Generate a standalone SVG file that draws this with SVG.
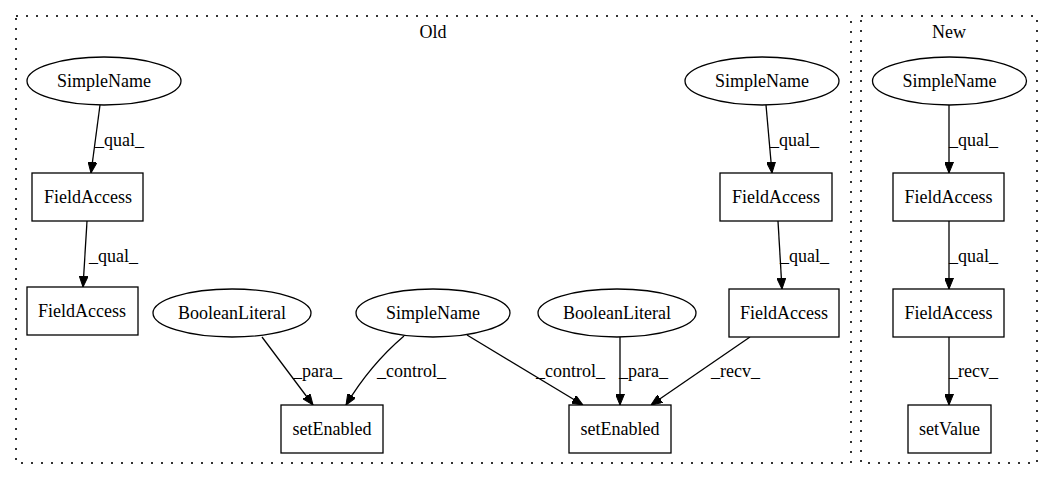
<svg xmlns="http://www.w3.org/2000/svg" width="1053" height="480" viewBox="0 0 1053 480">
<defs>
<marker id="ah" markerWidth="11" markerHeight="9" refX="11" refY="4.5" orient="auto" markerUnits="userSpaceOnUse">
<path d="M0,0 L11,4.5 L0,9 Z" fill="#000" stroke="#000" stroke-width="1"/>
</marker>
</defs>
<style>
text{font-family:"Liberation Serif","Times New Roman",serif;font-size:18px;fill:#000}
.n{fill:#fff;stroke:#000;stroke-width:1.3}
.c{fill:none;stroke:#333;stroke-width:2;stroke-dasharray:2,8}
.e{fill:none;stroke:#000;stroke-width:1.3;marker-end:url(#ah)}
.m{text-anchor:middle}
</style>
<rect width="1053" height="480" fill="#fff"/>
<g id="cluster_old">
<rect class="c" x="16" y="16" width="835" height="447"/>
<text class="m" x="433" y="38">Old</text>
</g>
<g id="cluster_new">
<rect class="c" x="861" y="16" width="176" height="447"/>
<text class="m" x="949" y="38">New</text>
</g>
<g id="connectors">
<path class="e" d="M100,105 L91,173"/>
<text x="95" y="146">_qual_</text>
<path class="e" d="M87,221 L83,287"/>
<text x="89" y="262">_qual_</text>
<path class="e" d="M262,337 L313,405"/>
<text x="293" y="377">_para_</text>
<path class="e" d="M404,336 Q370,365 346,405"/>
<text x="377" y="377">_control_</text>
<path class="e" d="M467,335 L583,405"/>
<text x="536" y="377">_control_</text>
<path class="e" d="M620,337 L620,405"/>
<text x="619" y="377">_para_</text>
<path class="e" d="M750,337 L651,405"/>
<text x="711" y="377">_recv_</text>
<path class="e" d="M766,105 L772,173"/>
<text x="770" y="146">_qual_</text>
<path class="e" d="M778,221 L782,289"/>
<text x="780" y="262">_qual_</text>
<path class="e" d="M949,105 L949,173"/>
<text x="949" y="146">_qual_</text>
<path class="e" d="M949,221 L949,289"/>
<text x="949" y="262">_qual_</text>
<path class="e" d="M949,337 L949,405"/>
<text x="949" y="377">_recv_</text>
</g>
<g id="n_simplename1"><ellipse class="n" cx="104" cy="81" rx="77" ry="24"/><text class="m" x="104" y="87">SimpleName</text></g>
<g id="n_fieldaccess1"><rect class="n" x="32" y="173" width="111" height="48"/><text class="m" x="88" y="203">FieldAccess</text></g>
<g id="n_fieldaccess2"><rect class="n" x="27" y="287" width="111" height="48"/><text class="m" x="82" y="317">FieldAccess</text></g>
<g id="n_booleanliteral1"><ellipse class="n" cx="232" cy="313" rx="79" ry="24"/><text class="m" x="232" y="319">BooleanLiteral</text></g>
<g id="n_simplename2"><ellipse class="n" cx="433" cy="313" rx="77" ry="24"/><text class="m" x="433" y="319">SimpleName</text></g>
<g id="n_booleanliteral2"><ellipse class="n" cx="617" cy="313" rx="79" ry="24"/><text class="m" x="617" y="319">BooleanLiteral</text></g>
<g id="n_setenabled1"><rect class="n" x="281" y="405" width="102" height="48"/><text class="m" x="332" y="435">setEnabled</text></g>
<g id="n_setenabled2"><rect class="n" x="569" y="405" width="102" height="48"/><text class="m" x="620" y="435">setEnabled</text></g>
<g id="n_simplename3"><ellipse class="n" cx="762" cy="81" rx="77" ry="24"/><text class="m" x="762" y="87">SimpleName</text></g>
<g id="n_fieldaccess3"><rect class="n" x="720" y="173" width="112" height="48"/><text class="m" x="776" y="203">FieldAccess</text></g>
<g id="n_fieldaccess4"><rect class="n" x="729" y="289" width="110" height="48"/><text class="m" x="784" y="319">FieldAccess</text></g>
<g id="n_simplename_new"><ellipse class="n" cx="949.5" cy="81" rx="77" ry="24"/><text class="m" x="949.5" y="87">SimpleName</text></g>
<g id="n_fieldaccess_new1"><rect class="n" x="893" y="173" width="111" height="48"/><text class="m" x="948.5" y="203">FieldAccess</text></g>
<g id="n_fieldaccess_new2"><rect class="n" x="893" y="289" width="111" height="48"/><text class="m" x="948.5" y="319">FieldAccess</text></g>
<g id="n_setvalue"><rect class="n" x="908" y="405" width="83" height="48"/><text class="m" x="949.5" y="435">setValue</text></g>
</svg>
